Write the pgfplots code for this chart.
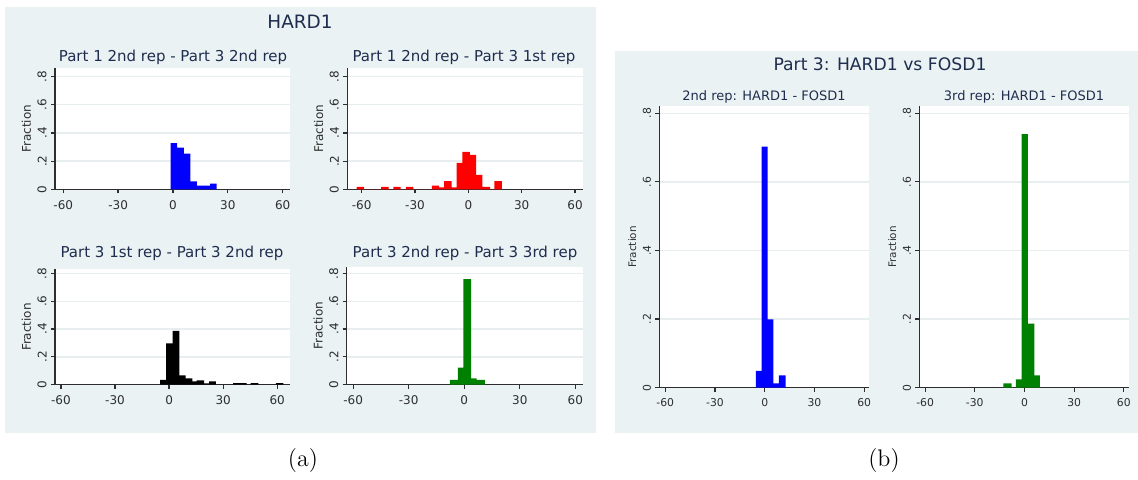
\documentclass[border=0pt]{standalone}
\usepackage{fontspec}
\usepackage{pgfplots}
\pgfplotsset{compat=1.18}
\newfontfamily\dv{DejaVu Sans}
\definecolor{panelbg}{HTML}{EAF2F3}
\definecolor{gridc}{HTML}{E6EEF0}
\definecolor{titlec}{HTML}{1E2D4E}
\definecolor{axisc}{HTML}{2E2E2E}
\definecolor{stgreen}{RGB}{0,128,0}

\pgfplotsset{
  hist/.style={
    scale only axis,
    axis x line*=bottom, axis y line*=left,
    axis line style={-, axisc, line width=0.65pt},
    axis background/.style={fill=white},
    ymin=0,
    xtick={-60,-30,0,30,60}, xticklabels={-60,-30,0,30,60},
    ytick={0,0.2,0.4,0.6,0.8}, yticklabels={0,.2,.4,.6,.8},
    yticklabel style={rotate=90, anchor=south, inner sep=2pt},
    tick align=outside, major tick length=2pt,
    tick style={axisc, line width=0.6pt},
    ymajorgrids, grid style={gridc, line width=0.7pt},
    ylabel={Fraction}, ylabel shift=-2.3pt,
    anchor=south west,
  },
  histA/.style={hist,
    tick label style={font=\dv\fontsize{6}{7}\selectfont, text=axisc},
    ylabel style={font=\dv\fontsize{6}{7}\selectfont, text=axisc},
  },
  histB/.style={hist,
    tick label style={font=\dv\fontsize{5.4}{6.5}\selectfont, text=axisc},
    ylabel style={font=\dv\fontsize{5.2}{6}\selectfont, text=axisc},
  },
  bars/.style={ybar interval, fill=#1, draw=none},
}

\begin{document}
\begin{tikzpicture}
\fill[white] (0pt,0pt) rectangle (569pt,-239.5pt);
\fill[panelbg] (2.5pt,-3.5pt) rectangle (298pt,-216.5pt);
\fill[panelbg] (307.5pt,-25.5pt) rectangle (569pt,-216.5pt);

% (a) top left
\begin{axis}[histA, at={(27.5pt,-94.65pt)}, width=117.5pt, height=60.5pt,
  xmin=-64.5, xmax=64, ymax=0.859]
\addplot[bars=blue] coordinates {
  (-1.3,0.327) (2.3,0.296) (5.9,0.253) (9.5,0.057) (13.1,0.026)
  (16.7,0.026) (20.3,0.040) (23.9,0)
};
\end{axis}

% (a) top right
\begin{axis}[histA, at={(173.65pt,-94.65pt)}, width=117.7pt, height=60.5pt,
  xmin=-68.1, xmax=64.3, ymax=0.859]
\addplot[bars=red] coordinates {
  (-62.8,0.017) (-58.7,0) (-49.1,0.017) (-44.8,0) (-42.2,0.017) (-38.1,0)
  (-35.1,0.017) (-30.9,0) (-20.6,0.026) (-16.5,0.014) (-13.7,0.059)
  (-9.4,0.014) (-6.6,0.187) (-3.4,0.265) (0.9,0.244) (4.3,0.102)
  (7.9,0.017) (12.2,0) (14.6,0.059) (18.9,0)
};
\end{axis}

% (a) bottom left
\begin{axis}[histA, at={(27.5pt,-192.35pt)}, width=117.5pt, height=57.7pt,
  xmin=-63.3, xmax=67.1, ymax=0.829]
\addplot[bars=black] coordinates {
  (-5.0,0.034) (-1.7,0.297) (2.0,0.386) (5.7,0.067) (9.2,0.045)
  (12.9,0.024) (15.3,0.031) (19.4,0.010) (22.2,0.024) (26.0,0)
  (35.6,0.012) (39.3,0.012) (43.0,0) (45.2,0.012) (49.5,0)
  (59.3,0.012) (63.4,0)
};
\end{axis}

% (a) bottom right
\begin{axis}[histA, at={(173.35pt,-192.35pt)}, width=118pt, height=59pt,
  xmin=-63.5, xmax=64, ymax=0.848]
\addplot[bars=stgreen] coordinates {
  (-7.7,0.034) (-3.5,0.122) (-0.5,0.759) (3.7,0.045) (6.7,0.034) (11.2,0)
};
\end{axis}

% (b) left
\begin{axis}[histB, at={(329.65pt,-193.85pt)}, width=105pt, height=140.85pt,
  xmin=-63.6, xmax=63.1, ymax=0.821]
\addplot[bars=blue] coordinates {
  (-5.3,0.049) (-1.85,0.703) (1.8,0.199) (5.2,0.013) (8.6,0.036) (12.6,0)
};
\end{axis}

% (b) right
\begin{axis}[histB, at={(459.65pt,-193.85pt)}, width=105pt, height=140.85pt,
  xmin=-63.5, xmax=63.3, ymax=0.821]
\addplot[bars=stgreen] coordinates {
  (-12.8,0.013) (-7.8,0) (-5.15,0.024) (-1.7,0.739) (2.1,0.187)
  (5.9,0.036) (9.3,0)
};
\end{axis}

\begin{scope}[text=titlec]
\node[font=\dv\fontsize{9.2}{11}\selectfont] at (150pt,-11pt) {HARD1};
\node[font=\dv\fontsize{7.5}{9}\selectfont] at (86.5pt,-28.5pt) {Part 1 2nd rep - Part 3 2nd rep};
\node[font=\dv\fontsize{7.5}{9}\selectfont] at (232pt,-28.5pt) {Part 1 2nd rep - Part 3 1st rep};
\node[font=\dv\fontsize{7.5}{9}\selectfont] at (86pt,-126.5pt) {Part 3 1st rep - Part 3 2nd rep};
\node[font=\dv\fontsize{7.5}{9}\selectfont] at (232.5pt,-126.5pt) {Part 3 2nd rep - Part 3 3rd rep};
\node[font=\dv\fontsize{8.6}{10}\selectfont] at (440pt,-32pt) {Part 3: HARD1 vs FOSD1};
\node[font=\dv\fontsize{6.5}{8}\selectfont] at (382pt,-48.5pt) {2nd rep: HARD1 - FOSD1};
\node[font=\dv\fontsize{6.5}{8}\selectfont] at (512pt,-48.5pt) {3rd rep: HARD1 - FOSD1};
\end{scope}
\node[font=\fontsize{12}{14}\selectfont] at (151.5pt,-230pt) {(a)};
\node[font=\fontsize{12}{14}\selectfont] at (442pt,-230pt) {(b)};
\end{tikzpicture}
\end{document}
